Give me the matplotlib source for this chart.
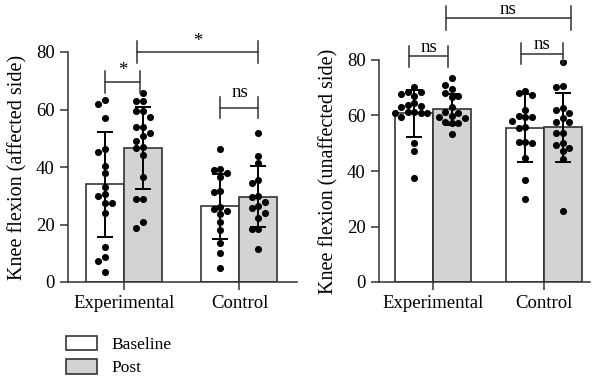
import numpy as np
import matplotlib
matplotlib.use('Agg')
import matplotlib.pyplot as plt
from matplotlib.patches import Patch

plt.rcParams['font.family'] = ['Liberation Serif', 'DejaVu Serif']
plt.rcParams['font.size'] = 13.5

# data
groups = ['Experimental', 'Control']
series = ['Baseline', 'Post']

# affected side
aff_mean_base = [34.0, 26.4]
aff_mean_post = [46.6, 29.6]
aff_sd_base = [18.3, 11.3]
aff_sd_post = [14.3, 10.6]
aff_exp_base = [63.3, 61.9, 57.2, 46.4, 45.2, 40.3, 37.8, 33.2, 30.5, 29.9, 27.6, 27.6, 24.1, 12.1, 8.6, 7.4, 3.4]
aff_exp_post = [65.6, 63.1, 63.1, 59.5, 59.5, 57.3, 54.0, 54.0, 51.7, 50.8, 49.0, 47.1, 46.5, 44.2, 36.6, 28.8, 28.8, 21.0, 18.9]
aff_ctl_base = [46.2, 39.3, 39.0, 38.0, 36.6, 31.7, 31.2, 26.2, 25.3, 24.8, 23.5, 21.0, 18.1, 13.5, 10.0, 5.0]
aff_ctl_post = [51.7, 43.9, 41.3, 35.5, 34.3, 30.0, 29.7, 27.9, 26.4, 25.6, 24.1, 22.1, 18.4, 18.3, 11.4]

# unaffected side
una_mean_base = [60.8, 55.4]
una_mean_post = [62.3, 55.7]
una_sd_base = [8.4, 12.3]
una_sd_post = [5.6, 12.5]
una_exp_base = [70.1, 68.6, 68.6, 67.7, 67.0, 64.4, 63.8, 63.4, 63.2, 61.4, 61.1, 60.8, 60.8, 60.8, 59.6, 50.0, 47.3, 37.4]
una_exp_post = [73.4, 71.0, 69.4, 68.2, 67.0, 66.6, 63.0, 61.4, 60.8, 59.8, 59.3, 59.0, 57.8, 57.4, 57.2, 53.3]
una_ctl_base = [68.8, 68.0, 67.4, 62.0, 59.9, 59.3, 59.3, 58.0, 56.0, 55.6, 50.6, 50.3, 50.0, 44.6, 36.8, 29.9]
una_ctl_post = [79.2, 70.6, 70.4, 62.6, 62.0, 60.8, 59.0, 57.8, 57.5, 53.6, 53.6, 50.2, 49.4, 48.2, 47.3, 44.2, 25.7]

edge = '#333333'
post_fill = '#d3d3d3'


def swarm(vals, dv, dx):
    vals = np.asarray(vals, float)
    offs = np.zeros(len(vals))
    placed = []
    for i in np.argsort(-vals):
        for k in [0, -1, 1, -2, 2, -3, 3]:
            if all(kk != k or abs(vals[i] - v) >= dv for v, kk in placed):
                break
        offs[i] = k * dx
        placed.append((vals[i], k))
    return offs


def bracket(ax, x1, x2, y, h, text, ty):
    kw = dict(color=edge, lw=1.1, clip_on=False, zorder=5)
    ax.plot([x1, x2], [y, y], **kw)
    ax.plot([x1, x1], [y - h, y + h], **kw)
    ax.plot([x2, x2], [y - h, y + h], **kw)
    ax.text((x1 + x2) / 2, ty, text, ha='center', va='baseline', fontsize=13.5)


def panel(ax, means, sds, points, width, dv):
    x = np.arange(len(groups))
    pos = [x - width / 2, x + width / 2]
    fills = ['white', post_fill]
    for s in range(2):
        ax.bar(pos[s], means[s], width, color=fills[s], edgecolor=edge, lw=1.2, zorder=2)
        ax.errorbar(pos[s], means[s], yerr=sds[s], fmt='none', ecolor='black',
                    elinewidth=1.4, capsize=6, capthick=1.4, zorder=3)
        for g in range(2):
            vals = points[s][g]
            off = swarm(vals, dv, 0.058)
            ax.scatter(pos[s][g] + off, vals, s=26, color='black', zorder=4, lw=0)
    ax.set_ylim(0, 80)
    ax.set_yticks([0, 20, 40, 60, 80])
    ax.set_xticks(x)
    ax.set_xticklabels(groups)
    for sp in ['top', 'right']:
        ax.spines[sp].set_visible(False)
    for sp in ['left', 'bottom']:
        ax.spines[sp].set_color(edge)
        ax.spines[sp].set_linewidth(1.1)
    ax.tick_params(axis='both', direction='out', length=6, width=1.1, color=edge, labelsize=13.5)
    ax.tick_params(axis='x', pad=3)
    return pos


fig = plt.figure(figsize=(6, 3.85), dpi=100)
ax1 = fig.add_axes([68 / 600, 1 - 282 / 385, 229 / 600, 230 / 385])
ax2 = fig.add_axes([379 / 600, 1 - 282 / 385, 211 / 600, 222 / 385])

p1 = panel(ax1, [aff_mean_base, aff_mean_post], [aff_sd_base, aff_sd_post],
           [[aff_exp_base, aff_ctl_base], [aff_exp_post, aff_ctl_post]], 0.329, 2.4)
ax1.set_xlim(-0.485, 1.498)
ax1.set_ylabel('Knee flexion (affected side)', fontsize=14.5, labelpad=6)
bracket(ax1, p1[0][0], p1[1][0] - 0.03, 69.6, 3.7, '*', 72.0)
bracket(ax1, p1[1][0] - 0.05, p1[1][1], 80.0, 3.7, '*', 82.0)
bracket(ax1, p1[0][1], p1[1][1], 60.6, 3.7, 'ns', 64.4)

p2 = panel(ax2, [una_mean_base, una_mean_post], [una_sd_base, una_sd_post],
           [[una_exp_base, una_ctl_base], [una_exp_post, una_ctl_post]], 0.338, 2.5)
ax2.set_xlim(-0.486, 1.414)
ax2.set_ylabel('Knee flexion (unaffected side)', fontsize=14.5, labelpad=6)
bracket(ax2, p2[0][0] - 0.05, p2[1][0] - 0.03, 81.4, 3.8, 'ns', 83.0)
bracket(ax2, p2[0][1] - 0.04, p2[1][1], 82.2, 3.8, 'ns', 83.8)
bracket(ax2, p2[1][0] - 0.05, p2[1][1] + 0.07, 95.0, 4.3, 'ns', 96.6)

handles = [Patch(facecolor='white', edgecolor=edge, lw=1.2),
           Patch(facecolor=post_fill, edgecolor=edge, lw=1.2)]
fig.legend(handles, series, loc='upper left', bbox_to_anchor=(66 / 600, 1 - 336 / 385),
           frameon=False, borderpad=0, handlelength=1.8, handleheight=0.9,
           handletextpad=0.8, labelspacing=0.35, fontsize=12.5, borderaxespad=0)

fig.savefig('out.png', dpi=100)
